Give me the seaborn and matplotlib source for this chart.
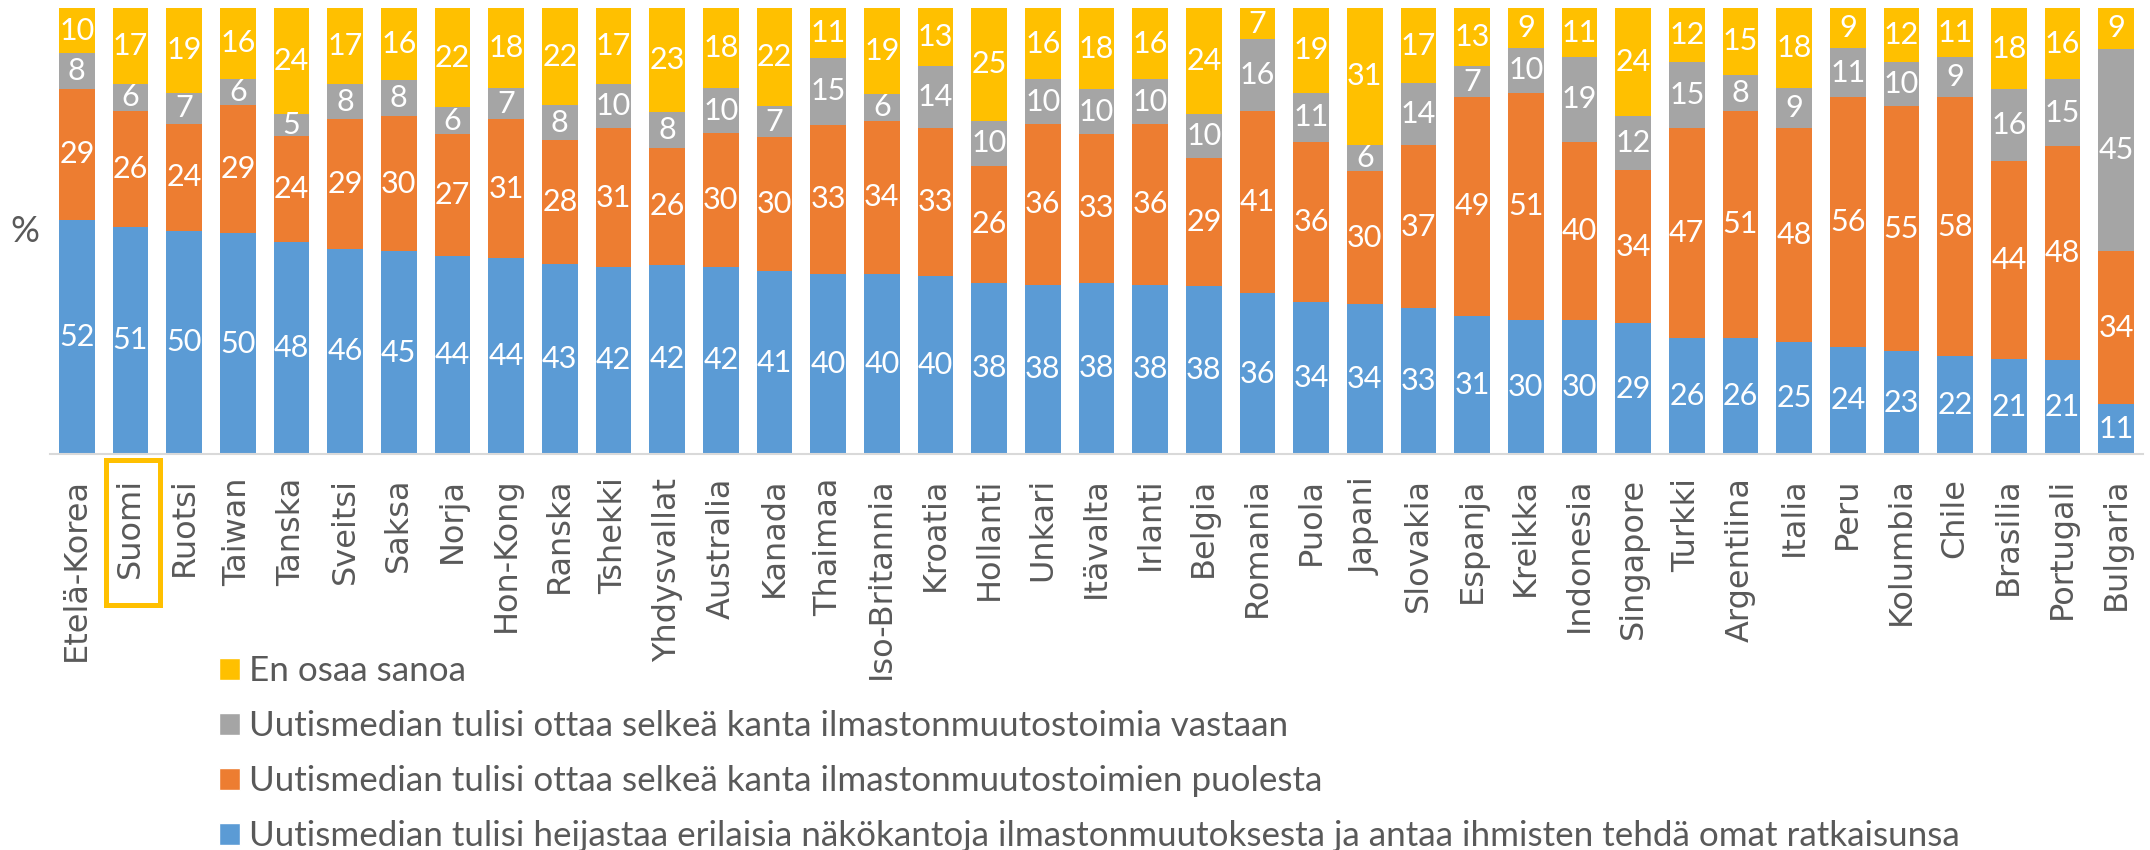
import matplotlib
matplotlib.use("Agg")
import matplotlib.pyplot as plt
import seaborn as sns
import pandas as pd
from matplotlib.patches import Rectangle, Patch

countries = ["Etelä-Korea", "Suomi", "Ruotsi", "Taiwan", "Tanska", "Sveitsi", "Saksa", "Norja",
             "Hon-Kong", "Ranska", "Tshekki", "Yhdysvallat", "Australia", "Kanada", "Thaimaa",
             "Iso-Britannia", "Kroatia", "Hollanti", "Unkari", "Itävalta", "Irlanti", "Belgia",
             "Romania", "Puola", "Japani", "Slovakia", "Espanja", "Kreikka", "Indonesia",
             "Singapore", "Turkki", "Argentiina", "Italia", "Peru", "Kolumbia", "Chile",
             "Brasilia", "Portugali", "Bulgaria"]
heijastaa = [52, 51, 50, 50, 48, 46, 45, 44, 44, 43, 42, 42, 42, 41, 40, 40, 40, 38, 38, 38,
             38, 38, 36, 34, 34, 33, 31, 30, 30, 29, 26, 26, 25, 24, 23, 22, 21, 21, 11]
puolesta = [29, 26, 24, 29, 24, 29, 30, 27, 31, 28, 31, 26, 30, 30, 33, 34, 33, 26, 36, 33,
            36, 29, 41, 36, 30, 37, 49, 51, 40, 34, 47, 51, 48, 56, 55, 58, 44, 48, 34]
vastaan = [8, 6, 7, 6, 5, 8, 8, 6, 7, 8, 10, 8, 10, 7, 15, 6, 14, 10, 10, 10,
           10, 10, 16, 11, 6, 14, 7, 10, 19, 12, 15, 8, 9, 11, 10, 9, 16, 15, 45]
en_osaa = [10, 17, 19, 16, 24, 17, 16, 22, 18, 22, 17, 23, 18, 22, 11, 19, 13, 25, 16, 18,
           16, 24, 7, 19, 31, 17, 13, 9, 11, 24, 12, 15, 18, 9, 12, 11, 18, 16, 9]

series_names = [
    "En osaa sanoa",
    "Uutismedian tulisi ottaa selkeä kanta ilmastonmuutostoimia vastaan",
    "Uutismedian tulisi ottaa selkeä kanta ilmastonmuutostoimien puolesta",
    "Uutismedian tulisi heijastaa erilaisia näkökantoja ilmastonmuutoksesta ja antaa ihmisten tehdä omat ratkaisunsa",
]
highlight = "Suomi"

BLUE, ORANGE, GRAY, YELLOW = "#5B9BD5", "#ED7D31", "#A5A5A5", "#FFC000"
TXT = "#595959"

sns.set_theme(style="white")
plt.rcParams['font.family'] = ['DejaVu Sans']

W, H = 2150, 850
fig = plt.figure(figsize=(W / 100, H / 100), dpi=100)
ax = fig.add_axes([50 / W, 1 - 454 / H, (2143 - 50) / W, (454 - 8) / H])

df = pd.DataFrame({"country": countries, "b": heijastaa, "o": puolesta, "g": vastaan, "y": en_osaa})
tot = df[["b", "o", "g", "y"]].sum(axis=1)
for c in ["b", "o", "g", "y"]:
    df[c + "_p"] = df[c] / tot * 100
df["c1"] = df["b_p"]
df["c2"] = df["c1"] + df["o_p"]
df["c3"] = df["c2"] + df["g_p"]
df["c4"] = df["c3"] + df["y_p"]

for col, color in [("c4", YELLOW), ("c3", GRAY), ("c2", ORANGE), ("c1", BLUE)]:
    sns.barplot(data=df, x="country", y=col, color=color, saturation=1, width=0.67,
                linewidth=0, errorbar=None, ax=ax)

# data labels
for i, row in df.iterrows():
    bottom = 0.0
    for v, p in [(row["b"], row["b_p"]), (row["o"], row["o_p"]), (row["g"], row["g_p"]), (row["y"], row["y_p"])]:
        ax.text(i, bottom + p / 2, f"{int(v)}", ha="center", va="center", color="white",
                fontsize=22, family=["Lato", "DejaVu Sans"])
        bottom += p

ax.set_ylim(0, 100)
ax.set_xlim(-0.5, len(countries) - 0.5)
ax.set_yticks([])
ax.set_xlabel("")
ax.set_ylabel("%", rotation=0, fontsize=26, color=TXT, family=["Lato", "DejaVu Sans"],
              va="center", ha="center")
ax.yaxis.set_label_coords(-0.012, 0.5)
ax.tick_params(axis="x", labelrotation=90, pad=17, labelsize=23, colors=TXT, length=0)
for s in ["top", "right", "left"]:
    ax.spines[s].set_visible(False)
ax.spines["bottom"].set_color("#D9D9D9")
ax.spines["bottom"].set_linewidth(1.5)

handles = [Patch(facecolor=YELLOW), Patch(facecolor=GRAY), Patch(facecolor=ORANGE), Patch(facecolor=BLUE)]
fig.legend(handles, series_names, loc="upper left", bbox_to_anchor=(219 / W, 1 - 655 / H),
           frameon=False, prop={"family": ["Lato", "DejaVu Sans"], "size": 25.2},
           labelcolor=TXT, handlelength=0.6, handleheight=0.6, handletextpad=0.25,
           labelspacing=0.66, borderpad=0, borderaxespad=0)

# highlight box around Suomi label
fig.canvas.draw()
r = fig.canvas.get_renderer()
idx = countries.index(highlight)
lab = ax.get_xticklabels()[idx]
bb = lab.get_window_extent(r)
xc = ax.transData.transform((idx, 0))[0]
top = H - 460
bot = bb.y0 - 27
fig.patches.append(Rectangle(((xc - 25) / W, bot / H), 54 / W, (top - bot) / H,
                             transform=fig.transFigure, fill=False, edgecolor=YELLOW, linewidth=3.6))

fig.savefig("out.png", dpi=100)
